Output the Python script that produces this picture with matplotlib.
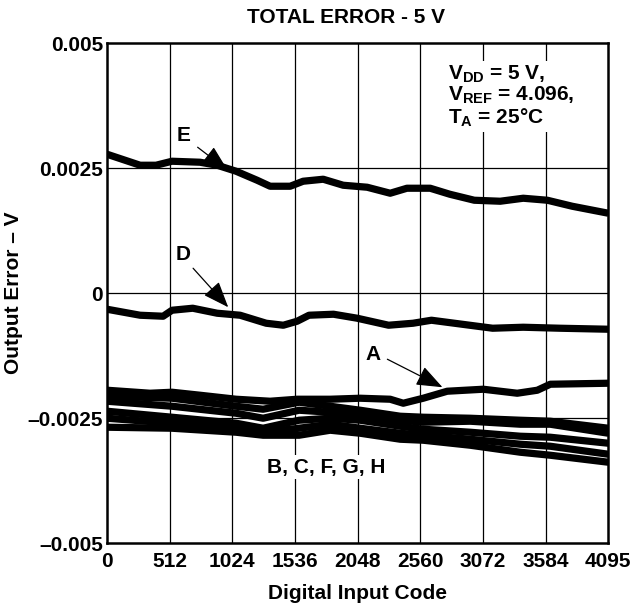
import matplotlib
matplotlib.use('Agg')
import matplotlib.pyplot as plt

plt.rcParams['font.family'] = ['Liberation Sans', 'DejaVu Sans']
plt.rcParams['font.weight'] = 'bold'
plt.rcParams['mathtext.fontset'] = 'custom'
plt.rcParams['mathtext.rm'] = 'Liberation Sans:bold'
plt.rcParams['mathtext.bf'] = 'Liberation Sans:bold'

# curve data (code, volts)
e_code = [0, 270, 400, 531, 760, 900, 1054, 1226, 1332, 1496, 1602, 1766, 1929, 2125, 2313, 2450, 2640, 2800, 3000, 3212, 3400, 3597, 3800, 4095]
e_val = [0.00278, 0.00256, 0.00256, 0.00264, 0.00262, 0.00256, 0.00244, 0.00226, 0.00214, 0.00214, 0.00224, 0.00228, 0.00216, 0.00212, 0.00200, 0.00210, 0.00210, 0.00198, 0.00186, 0.00184, 0.00190, 0.00186, 0.00174, 0.00160]

d_code = [0, 270, 458, 531, 700, 900, 1087, 1300, 1440, 1553, 1650, 1850, 2044, 2300, 2500, 2650, 2900, 3150, 3400, 3700, 4095]
d_val = [-0.00032, -0.00044, -0.00046, -0.00034, -0.00030, -0.00040, -0.00044, -0.00060, -0.00064, -0.00056, -0.00044, -0.00042, -0.00050, -0.00064, -0.00060, -0.00054, -0.00062, -0.00070, -0.00068, -0.00070, -0.00072]

a_code = [0, 351, 531, 760, 1054, 1332, 1553, 1823, 2068, 2313, 2420, 2583, 2779, 3073, 3351, 3515, 3621, 4095]
a_val = [-0.00194, -0.00200, -0.00198, -0.00204, -0.00212, -0.00216, -0.00212, -0.00212, -0.00210, -0.00212, -0.00220, -0.00210, -0.00196, -0.00192, -0.00200, -0.00194, -0.00182, -0.00180]

# the B, C, F, G, H bundle shares one set of codes
bundle_code = [0, 531, 1054, 1275, 1569, 1823, 2068, 2395, 2583, 2967, 3376, 3621, 4095]
b_val = [-0.00206, -0.00210, -0.00226, -0.00232, -0.00218, -0.00226, -0.00234, -0.00246, -0.00248, -0.00250, -0.00254, -0.00256, -0.00270]
c_val = [-0.00216, -0.00226, -0.00240, -0.00250, -0.00234, -0.00238, -0.00242, -0.00254, -0.00258, -0.00256, -0.00262, -0.00262, -0.00280]
f_val = [-0.00236, -0.00248, -0.00260, -0.00270, -0.00254, -0.00250, -0.00254, -0.00266, -0.00272, -0.00278, -0.00286, -0.00288, -0.00300]
g_val = [-0.00250, -0.00260, -0.00270, -0.00278, -0.00270, -0.00262, -0.00270, -0.00280, -0.00284, -0.00292, -0.00302, -0.00306, -0.00322]
h_val = [-0.00268, -0.00270, -0.00278, -0.00284, -0.00284, -0.00274, -0.00280, -0.00292, -0.00294, -0.00304, -0.00318, -0.00324, -0.00338]

x_ticks = [0, 512, 1024, 1536, 2048, 2560, 3072, 3584, 4095]
y_ticks = [-0.005, -0.0025, 0, 0.0025, 0.005]
y_labels = ['\u20130.005', '\u20130.0025', '0', '0.0025', '0.005']

fig = plt.figure(figsize=(6.41, 6.09), dpi=100)
ax = fig.add_axes([0.167, 0.108, 0.782, 0.821])

for xc in x_ticks[1:-1]:
    ax.axvline(xc, color='black', lw=0.9, zorder=1)
for yc in y_ticks[1:-1]:
    ax.axhline(yc, color='black', lw=0.9, zorder=1)

curves = [(e_code, e_val), (d_code, d_val), (a_code, a_val)]
curves += [(bundle_code, v) for v in (b_val, c_val, f_val, g_val, h_val)]
for cx, cy in curves:
    ax.plot(cx, cy, color='black', lw=5.2, solid_joinstyle='round', solid_capstyle='butt', zorder=3)

fs = 15
ax.set_xlim(0, 4095)
ax.set_ylim(-0.005, 0.005)
ax.set_xticks(x_ticks)
ax.set_xticklabels([str(v) for v in x_ticks])
ax.set_yticks(y_ticks)
ax.set_yticklabels(y_labels)
ax.tick_params(length=0, labelsize=fs)
ax.tick_params(axis='y', pad=3)
ax.tick_params(axis='x', pad=6)
for s in ax.spines.values():
    s.set_linewidth(1.8)

ax.set_xlabel('Digital Input Code', fontsize=fs, fontweight='bold', labelpad=10)
ax.set_ylabel('Output Error \u2013 V', fontsize=fs, fontweight='bold')
ax.yaxis.set_label_coords(-0.168, 0.5)
fig.text(0.54, 0.972, 'TOTAL ERROR - 5 V', ha='center', va='center', fontsize=fs, fontweight='bold')

wb = dict(facecolor='white', edgecolor='none', pad=2)
arr = dict(arrowstyle='-|>,head_length=0.9,head_width=0.35', color='black', lw=0.9, mutation_scale=18, shrinkA=0, shrinkB=0)

ax.text(621, 0.00316, 'E', ha='center', va='center', fontsize=fs, fontweight='bold', bbox=wb, zorder=4)
ax.annotate('', xy=(985, 0.00246), xytext=(740, 0.00292), arrowprops=arr, zorder=5)
ax.text(621, 0.00078, 'D', ha='center', va='center', fontsize=fs, fontweight='bold', bbox=wb, zorder=4)
ax.annotate('', xy=(990, -0.00028), xytext=(703, 0.0005), arrowprops=arr, zorder=5)
ax.text(2170, -0.00122, 'A', ha='center', va='center', fontsize=fs, fontweight='bold', bbox=wb, zorder=4)
ax.annotate('', xy=(2740, -0.00188), xytext=(2290, -0.00132), arrowprops=arr, zorder=5)
ax.text(1790, -0.00348, 'B, C, F, G, H', ha='center', va='center', fontsize=fs, fontweight='bold', bbox=wb, zorder=4)

spec = '$\\mathbf{V_{DD}}$ = 5 V,\n$\\mathbf{V_{REF}}$ = 4.096,\n$\\mathbf{T_{A}}$ = 25\u00b0C'
ax.text(2787, 0.0046, spec, ha='left', va='top', fontsize=fs, fontweight='bold',
        linespacing=1.02, bbox=wb, zorder=4)

fig.savefig('out.png', dpi=100)
